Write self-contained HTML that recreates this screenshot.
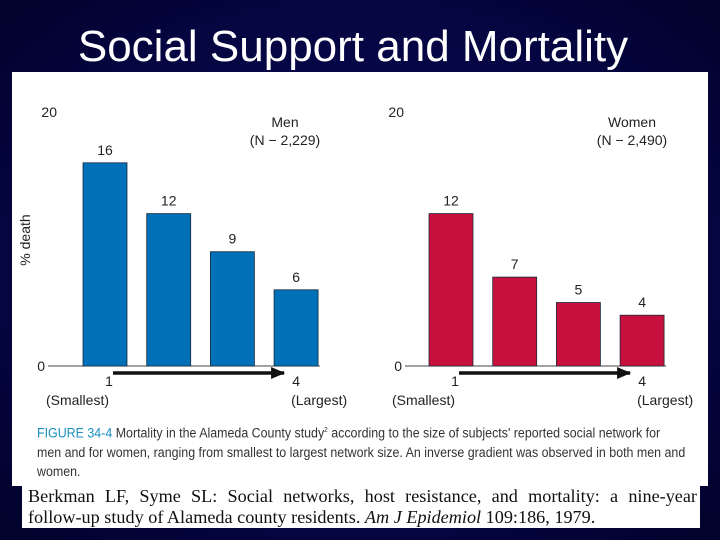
<!DOCTYPE html>
<html><head><meta charset="utf-8"><style>
body{margin:0;width:720px;height:540px;overflow:hidden;background:radial-gradient(ellipse at center,#0a0a5a 0%,#050540 70%,#02022a 100%);font-family:"Liberation Sans",sans-serif;position:relative}
.t{position:absolute;white-space:nowrap}
</style></head><body>
<div class="t" style="left:0;width:706px;text-align:center;top:22px;font-size:44px;color:#fff">Social Support and Mortality</div>
<div style="position:absolute;left:12px;top:72px;width:696px;height:414px;background:#fff"></div>
<div style="position:absolute;left:22px;top:486px;width:678px;height:42px;background:#fff"></div>
<svg width="720" height="540" style="position:absolute;left:0;top:0">
<defs><marker id="ah" markerUnits="userSpaceOnUse" markerWidth="14" markerHeight="12" refX="13" refY="6" orient="auto"><path d="M0,0 L14,6 L0,12 z" fill="#111"/></marker></defs>
<g id="g" font-family="Liberation Sans, sans-serif" fill="#222"></g>
</svg>
<div class="t" style="left:37px;top:421px;font-size:13.5px;line-height:19px;color:#333;transform:scaleX(0.92);transform-origin:0 0;white-space:normal;width:760px"><span style="color:#1a8fc0">FIGURE 34-4</span> Mortality in the Alameda County study<sup style="font-size:7px">2</sup> according to the size of subjects' reported social network for<br>men and for women, ranging from smallest to largest network size. An inverse gradient was observed in both men and<br>women.</div>
<div style="position:absolute;left:28px;top:486px;width:669px;font-family:'Liberation Serif',serif;font-size:18.2px;line-height:21px;color:#111">
<div style="text-align:justify;text-align-last:justify;white-space:nowrap">Berkman LF, Syme SL: Social networks, host resistance, and mortality: a nine-year</div>
<div style="white-space:nowrap">follow-up study of Alameda county residents. <i>Am J Epidemiol</i> 109:186, 1979.</div>
</div>
<script>
const categories=["1","2","3","4"];
const menValues=[16,12,9,6];
const womenValues=[12,7,5,4];
const yTicks=[0,20];
const panels=[
 {name:"men",vals:menValues,color:"#0070b8",x0:83,axisL:48,axisR:320,tickEnd:57,title:"Men",n:"(N − 2,229)",tx:285},
 {name:"women",vals:womenValues,color:"#c8103e",x0:429,axisL:405,axisR:666,tickEnd:404,title:"Women",n:"(N − 2,490)",tx:632}
];
const base=366, unit=12.7, pitch=63.7, bw=44;
const y=v=>base-v*unit;
const g=document.getElementById('g');
const NS="http://www.w3.org/2000/svg";
function mk(tag,attrs,txt){const e=document.createElementNS(NS,tag);for(const k in attrs)e.setAttribute(k,attrs[k]);if(txt!==undefined)e.textContent=txt;g.appendChild(e);return e;}
panels.forEach(p=>{
 let e=mk('line',{x1:p.axisL,x2:p.axisR,y1:base,y2:base,stroke:"#444","stroke-width":1});
 
 
 yTicks.forEach(t=>{
  const tx=t===0?p.axisL-3:p.tickEnd;
  e=mk('text',{x:tx,y:y(t)+5,"font-size":14,"text-anchor":"end"},String(t));
  
  
 });
 p.vals.forEach((v,i)=>{
  const x=p.x0+i*pitch;
  e=mk('rect',{x:x,y:y(v),width:bw,height:v*unit,fill:p.color,stroke:"#1a2a3a","stroke-width":0.8});
  
  
  e=mk('text',{x:x+bw/2,y:y(v)-8,"font-size":14,"text-anchor":"middle"},String(v));
  
  
 });
 e=mk('text',{x:p.tx,y:127,"font-size":14,"text-anchor":"middle"},p.title);
 
 
 e=mk('text',{x:p.tx,y:145,"font-size":14,"text-anchor":"middle"},p.n);
 
 
 const x1=p.x0+bw/2-8, x4=p.x0+3*pitch+bw/2-8;
 e=mk('line',{x1:x1+16,x2:x4-4,y1:373,y2:373,stroke:"#111","stroke-width":3.5,"marker-end":"url(#ah)"});
 
 
 e=mk('text',{x:x1+12,y:386,"font-size":14,"text-anchor":"middle"},"1");
 
 
 e=mk('text',{x:x1+12,y:405,"font-size":14,"text-anchor":"end"},"(Smallest)");
 
 
 e=mk('text',{x:x4+8,y:386,"font-size":14,"text-anchor":"middle"},"4");
 
 
 e=mk('text',{x:x4+3,y:405,"font-size":14,"text-anchor":"start"},"(Largest)");
 
 
});
let ya=mk('text',{x:30,y:240,"font-size":14,"text-anchor":"middle",transform:"rotate(-90 30 240)"},"% death");


</script>
</body></html>
